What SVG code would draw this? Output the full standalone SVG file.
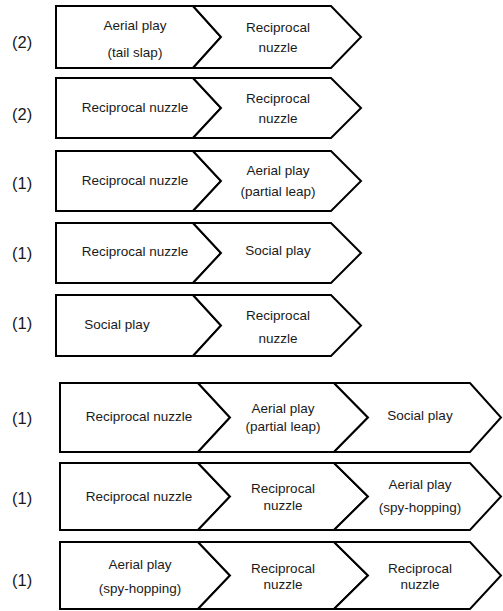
<svg xmlns="http://www.w3.org/2000/svg" width="503" height="611" viewBox="0 0 503 611">
<style>
.s{fill:#fff;stroke:#000;stroke-width:2;stroke-linejoin:miter}
.t{font-family:"Liberation Sans",Arial,sans-serif;font-size:13.5px;fill:#1a1a1a;text-anchor:middle}
.n{font-family:"Liberation Sans",Arial,sans-serif;font-size:16.5px;fill:#1a1a1a}
</style>
<rect width="503" height="611" fill="#fff"/>
<g id="connectors"/>
<g id="counts">
<text class="n" x="12" y="47.5">(2)</text>
<text class="n" x="12" y="120">(2)</text>
<text class="n" x="12" y="188.5">(1)</text>
<text class="n" x="12" y="258.5">(1)</text>
<text class="n" x="12" y="328.5">(1)</text>
<text class="n" x="12" y="423.5">(1)</text>
<text class="n" x="12" y="503.5">(1)</text>
<text class="n" x="12" y="586">(1)</text>
</g>
<g id="r1a"><polygon class="s" points="56,6 193,6 221,37 193,68 56,68"/><text class="t" x="135" y="30">Aerial play</text><text class="t" x="135" y="57">(tail slap)</text></g>
<g id="r1b"><polygon class="s" points="193,6 331,6 361,37 331,68 193,68 221,37"/><text class="t" x="278" y="32">Reciprocal</text><text class="t" x="278" y="52">nuzzle</text></g>
<g id="r2a"><polygon class="s" points="56,78 193,78 221,108 193,138 56,138"/><text class="t" x="135" y="112">Reciprocal nuzzle</text></g>
<g id="r2b"><polygon class="s" points="193,78 331,78 361,108 331,138 193,138 221,108"/><text class="t" x="278" y="103">Reciprocal</text><text class="t" x="278" y="123">nuzzle</text></g>
<g id="r3a"><polygon class="s" points="56,151 193,151 221,181 193,211 56,211"/><text class="t" x="135" y="185">Reciprocal nuzzle</text></g>
<g id="r3b"><polygon class="s" points="193,151 331,151 361,181 331,211 193,211 221,181"/><text class="t" x="278" y="175">Aerial play</text><text class="t" x="278" y="196">(partial leap)</text></g>
<g id="r4a"><polygon class="s" points="56,223 193,223 221,253 193,283 56,283"/><text class="t" x="135" y="256">Reciprocal nuzzle</text></g>
<g id="r4b"><polygon class="s" points="193,223 331,223 361,253 331,283 193,283 221,253"/><text class="t" x="278" y="255">Social play</text></g>
<g id="r5a"><polygon class="s" points="56,295 193,295 221,325.5 193,356 56,356"/><text class="t" x="117" y="329">Social play</text></g>
<g id="r5b"><polygon class="s" points="193,295 331,295 361,325.5 331,356 193,356 221,325.5"/><text class="t" x="278" y="320">Reciprocal</text><text class="t" x="278" y="343">nuzzle</text></g>
<g id="r6a"><polygon class="s" points="60,383 198,383 230,417.5 198,452 60,452"/><text class="t" x="139" y="421">Reciprocal nuzzle</text></g>
<g id="r6b"><polygon class="s" points="198,383 334,383 368,417.5 334,452 198,452 230,417.5"/><text class="t" x="283" y="413">Aerial play</text><text class="t" x="283" y="431">(partial leap)</text></g>
<g id="r6c"><polygon class="s" points="334,383 470,383 501,417.5 470,452 334,452 368,417.5"/><text class="t" x="420" y="420">Social play</text></g>
<g id="r7a"><polygon class="s" points="60,463 198,463 230,496.5 198,530 60,530"/><text class="t" x="139" y="501">Reciprocal nuzzle</text></g>
<g id="r7b"><polygon class="s" points="198,463 334,463 368,496.5 334,530 198,530 230,496.5"/><text class="t" x="283" y="493">Reciprocal</text><text class="t" x="283" y="510">nuzzle</text></g>
<g id="r7c"><polygon class="s" points="334,463 470,463 501,496.5 470,530 334,530 368,496.5"/><text class="t" x="420" y="489">Aerial play</text><text class="t" x="420" y="512">(spy-hopping)</text></g>
<g id="r8a"><polygon class="s" points="60,542 198,542 230,575.5 198,609 60,609"/><text class="t" x="140" y="569">Aerial play</text><text class="t" x="140" y="593">(spy-hopping)</text></g>
<g id="r8b"><polygon class="s" points="198,542 334,542 368,575.5 334,609 198,609 230,575.5"/><text class="t" x="283" y="573">Reciprocal</text><text class="t" x="283" y="589">nuzzle</text></g>
<g id="r8c"><polygon class="s" points="334,542 470,542 501,575.5 470,609 334,609 368,575.5"/><text class="t" x="420" y="573">Reciprocal</text><text class="t" x="420" y="589">nuzzle</text></g>
</svg>
